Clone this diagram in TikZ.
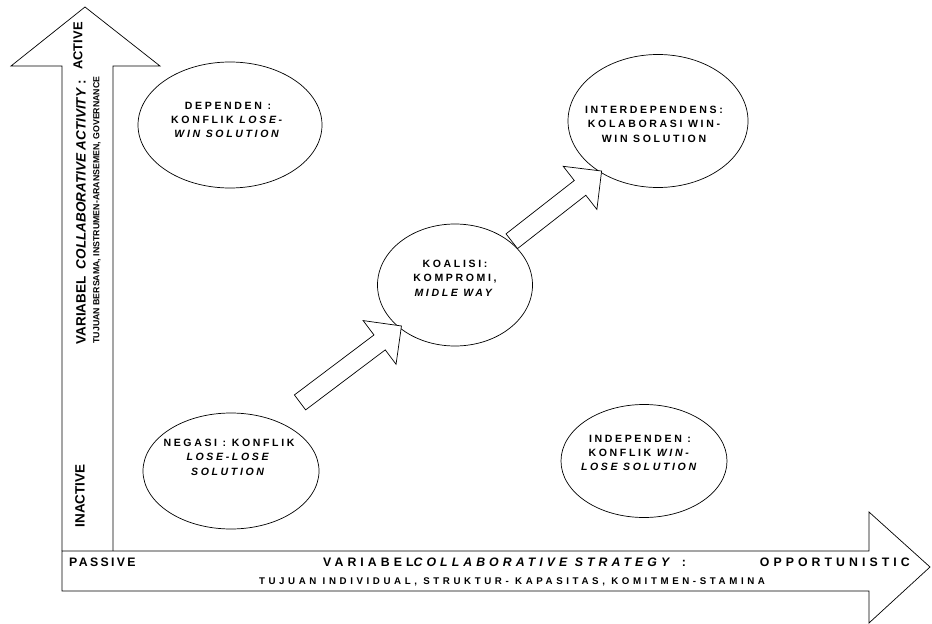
\documentclass[tikz,border=0pt]{standalone}
\usepackage{fontspec}
\setmainfont{Liberation Sans}
\newfontfamily\bubblefont[LetterSpace=25]{Liberation Sans}
\newfontfamily\passivefont[LetterSpace=19]{Liberation Sans}
\newfontfamily\axisfont[LetterSpace=33]{Liberation Sans}
\newfontfamily\subaxisfont[LetterSpace=37]{Liberation Sans}
\usetikzlibrary{shapes.geometric, shapes.arrows, positioning}

\begin{document}
\begin{tikzpicture}[
      x=0.3mm, y=-0.3mm,
      bubble/.style={draw, ellipse, line width=0.6pt, inner sep=0pt},
      bubtext/.style={font=\bubblefont\bfseries\fontsize{9}{12.3}\selectfont, align=center},
      blockarrow/.style={draw, fill=white, line width=0.6pt, single arrow, single arrow tip angle=90, single arrow head extend=5.4mm, inner xsep=0pt, inner ysep=2.7mm},
      axisline/.style={draw, fill=white, line width=0.6pt, line join=miter},
      vlab/.style={font=\bfseries\fontsize{#1}{#1}\selectfont, rotate=90},
      hlab/.style={font=\axisfont\bfseries\fontsize{10.5}{12}\selectfont, inner sep=0pt}
  ]
    \useasboundingbox (0,0) rectangle (932,624);

    % the two axes as outlined block arrows
    \path[axisline] (62,551) -- (62,66) -- (11,66) -- (85,7) -- (160,66) -- (113,66) -- (113,551);
    \path[axisline] (62,551) -- (869,551) -- (869,512) -- (930,567) -- (869,623) -- (869,591) -- (62,591) -- cycle;

    % vertical axis labels
    \node[vlab=11.5] (inactive) at (80,496) {INACTIVE};
    \node[vlab=11.5] (vactivity) at (81,212) {VARIABEL\ \ \textit{COLLABORATIVE ACTIVITY} :};
    \node[vlab=11] (active) at (78,46) {ACTIVE};
    \node[vlab=7.5] (vsub) at (97,210) {TUJUAN BERSAMA, INSTRUMEN-ARANSEMEN, GOVERNANCE};

    % horizontal axis labels
    \node[hlab, font=\passivefont\bfseries\fontsize{10.5}{12}\selectfont, anchor=base west] (passive) at (69,566) {PASSIVE};
    \node[hlab, anchor=base west] (hstrategy) at (323,566) {VARIABEL\textit{COLLABORATIVE STRATEGY} :};
    \node[hlab, anchor=base east] (opport) at (910,566) {OPPORTUNISTIC};
    \node[font=\subaxisfont\bfseries\fontsize{8.3}{9}\selectfont, anchor=base, inner sep=0pt] (hsub) at (512,584) {TUJUAN INDIVIDUAL, STRUKTUR- KAPASITAS, KOMITMEN-STAMINA};

    % quadrants
    \node[bubble, minimum width=55.2mm, minimum height=37.8mm] (dependen) at (230,125) {};
    \node[bubble, minimum width=54mm, minimum height=39.9mm] (interdep) at (658,121) {};
    \node[bubble, minimum width=46.5mm, minimum height=36.6mm] (koalisi) at (455,285) {};
    \node[bubble, minimum width=52.8mm, minimum height=34.8mm] (negasi) at (231,471) {};
    \node[bubble, minimum width=49.8mm, minimum height=33.9mm] (independen) at (644,461) {};

    \node[bubtext] (dependen-txt) at (228,120) {DEPENDEN :\\KONFLIK \textit{LOSE-}\\\textit{WIN SOLUTION}};
    \node[bubtext] (interdep-txt) at (654,124) {INTERDEPENDENS:\\KOLABORASI WIN-\\WIN SOLUTION};
    \node[bubtext] (koalisi-txt) at (455,278) {KOALISI:\\KOMPROMI,\\\textit{MIDLE WAY}};
    \node[bubtext] (negasi-txt) at (229,457) {NEGASI : KONFLIK\\\textit{LOSE-LOSE}\\\textit{SOLUTION}};
    \node[bubtext] (independen-txt) at (640,453) {INDEPENDEN :\\KONFLIK \textit{WIN-}\\\textit{LOSE SOLUTION}};

    % path negasi -> koalisi -> interdependens
    \node[blockarrow, minimum height=38.1mm, rotate=37] (step1) at (347,367) {};
    \node[blockarrow, minimum height=34.2mm, rotate=38] (step2) at (553,209) {};
  \end{tikzpicture}
\end{document}
